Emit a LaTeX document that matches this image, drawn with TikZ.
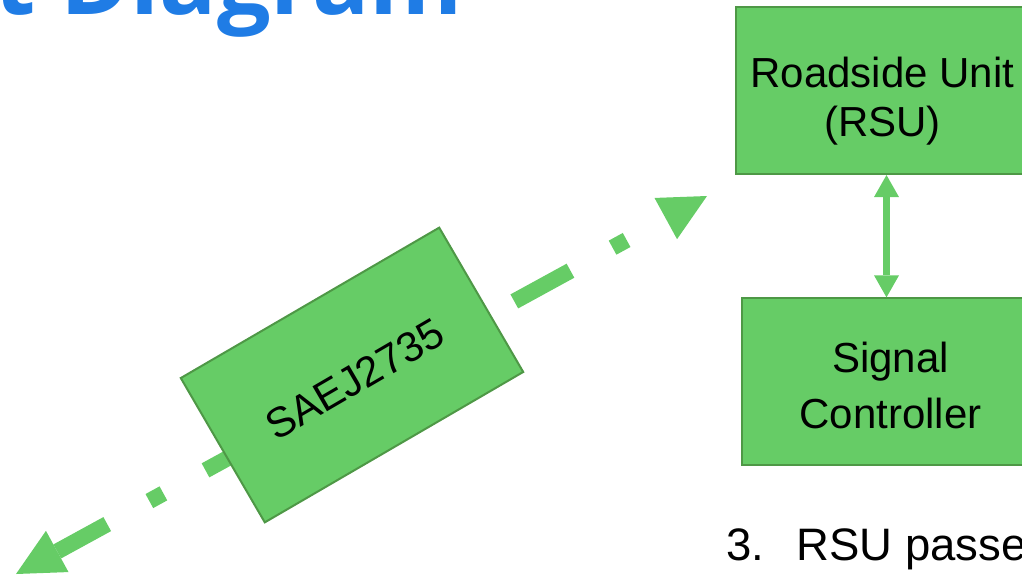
\documentclass[tikz,border=0pt]{standalone}
\usepackage{fontspec}
\setmainfont{Liberation Sans}
\newfontfamily\headfont{Open Sans}
\usetikzlibrary{arrows.meta,calc}
\definecolor{boxgreen}{RGB}{102,204,102}
\definecolor{edgegreen}{RGB}{78,152,70}
\definecolor{headblue}{RGB}{31,124,229}

\begin{document}
\begin{tikzpicture}[x=1pt,y=-1pt,
  greenbox/.style={draw=edgegreen, line width=2pt, fill=boxgreen, inner sep=0pt},
  boxtext/.style={font=\fontsize{42}{#1}\selectfont, align=center, text=black, inner sep=0pt},
  radiolink/.style={draw=boxgreen, line width=16pt,
    dash pattern=on 64pt off 48pt on 16pt off 48pt, dash phase=7pt,
    {Triangle[length=47pt,width=47pt,line width=0pt]}-{Triangle[length=47pt,width=47pt,line width=0pt]}},
  wirelink/.style={draw=boxgreen, line width=7.5pt,
    {Triangle[length=22pt,width=25pt,line width=0pt]}-{Triangle[length=22pt,width=25pt,line width=0pt]}},
]
\useasboundingbox (0,0) rectangle (1022,576);
\clip (0,0) rectangle (1022,576);

% heading, mostly above the page
\node[anchor=base east, inner sep=0pt, text=headblue,
      font=\headfont\bfseries\fontsize{95}{95}\selectfont] (heading) at (463,14) {t Diagram};

% wireless link ends
\coordinate (vehicleend) at (16,574);
\coordinate (rsuend) at (707,196);
\draw[radiolink] (vehicleend) -- (rsuend);

% message box on the link
\node[greenbox, minimum width=299pt, minimum height=167pt, rotate=30.2,
      font=\fontsize{42}{49}\selectfont, text height=40pt, text depth=0.5pt] (saej) at (352,375) {SAEJ2735};

% roadside unit and signal controller
\node[greenbox, minimum width=293.6pt, minimum height=166.7pt] (rsu) at (882.5,90.7) {};
\node[boxtext=49.4pt] (rsutext) at ([yshift=-10.6pt]rsu.center) {Roadside Unit\\(RSU)};
\node[greenbox, minimum width=297.6pt, minimum height=166.7pt] (sig) at (890.5,381.7) {};
\node[boxtext=55.6pt] (sigtext) at ([yshift=-3.9pt]sig.center) {Signal\\Controller};

\coordinate (mid) at ($(rsu.south)!0.5!(sig.north)$);
\draw[wirelink] (rsu.south -| mid) -- (sig.north -| mid);

% list item below
\node[anchor=base west, inner sep=0pt, font=\fontsize{45.5}{54}\selectfont] (step3) at (726.2,560)
  {\makebox[70.2pt][l]{3.}RSU passes};
\end{tikzpicture}
\end{document}
